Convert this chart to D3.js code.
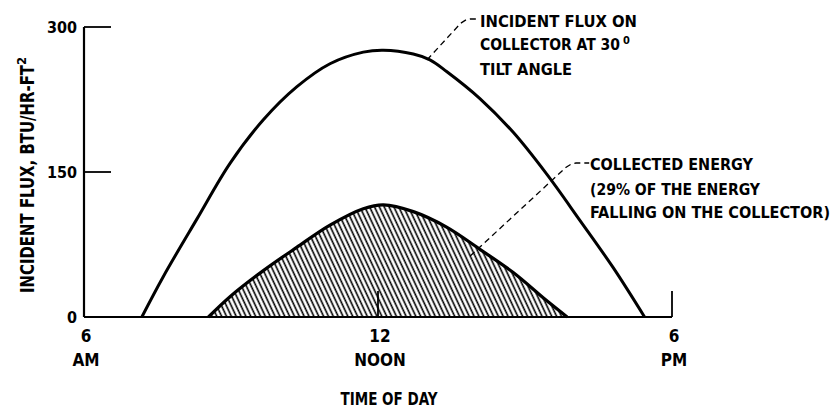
<!DOCTYPE html>
<html lang="en">

<head>
    <title>Incident Flux and Collected Energy</title>
    <meta charset="UTF-8">
    <script src="https://cdn.jsdelivr.net/npm/d3@7"></script>
    <style>
        body {
            margin: 0;
            background-color: #ffffff;
        }

        text {
            font-family: "Liberation Sans Narrow", "DejaVu Sans Condensed", sans-serif;
            font-weight: bold;
            fill: #000;
        }
    </style>
</head>

<body>
    <div id="chart"></div>

    <script>
        // hours of day (6 = 6 AM, 18 = 6 PM), flux in BTU/HR-FT2
        const incidentHours = [7.18, 7.62, 8.30, 8.98, 9.66, 10.34, 11.02, 11.70, 12.11, 12.72, 13.06, 13.40, 14.08, 14.76, 15.44, 16.12, 16.80, 17.44];
        const incidentFlux = [0, 42, 101, 159, 204, 238, 262, 274, 276, 272, 266, 254, 226, 191, 148, 100, 51, 0];

        const collectedHours = [8.54, 8.98, 9.66, 10.34, 11.02, 11.70, 12.11, 12.72, 13.40, 14.08, 14.76, 15.44, 15.86];
        const collectedFlux = [0, 21, 48, 72, 95, 112, 116, 109, 93, 70, 46, 17, 0];

        const yTicks = [0, 150, 300];
        const xTicks = [6, 12, 18];
        const xTickLabels = [["6", "AM"], ["12", "NOON"], ["6", "PM"]];

        const width = 839, height = 411;

        const svg = d3.select("#chart").append("svg")
            .attr("width", width)
            .attr("height", height);

        const x = d3.scaleLinear().domain([6, 18]).range([84, 672]);
        const y = d3.scaleLinear().domain([0, 300]).range([317, 27]);

        // hatch pattern for the collected energy
        svg.append("defs").append("pattern")
            .attr("id", "hatch")
            .attr("patternUnits", "userSpaceOnUse")
            .attr("width", 4.4)
            .attr("height", 10)
            .attr("patternTransform", "rotate(-25)")
            .append("line")
            .attr("x1", 1.2).attr("y1", -1)
            .attr("x2", 1.2).attr("y2", 11)
            .attr("stroke", "#000")
            .attr("stroke-width", 1.6);

        const incident = incidentHours.map((h, i) => ({ h, v: incidentFlux[i] }));
        const collected = collectedHours.map((h, i) => ({ h, v: collectedFlux[i] }));

        const line = d3.line().x(d => x(d.h)).y(d => y(d.v)).curve(d3.curveCatmullRom.alpha(0.5));
        const area = d3.area().x(d => x(d.h)).y0(y(0)).y1(d => y(d.v)).curve(d3.curveCatmullRom.alpha(0.5));

        svg.append("path")
            .datum(collected)
            .attr("d", area)
            .attr("fill", "url(#hatch)");

        // axes drawn by hand: a left spine with inward ticks and a bottom base line
        svg.append("line")
            .attr("x1", x(6)).attr("x2", x(6))
            .attr("y1", y(300)).attr("y2", y(0))
            .attr("stroke", "#000").attr("stroke-width", 2.2);

        svg.append("line")
            .attr("x1", x(6)).attr("x2", x(18))
            .attr("y1", y(0)).attr("y2", y(0))
            .attr("stroke", "#000").attr("stroke-width", 2.2);

        svg.selectAll(".ytick")
            .data(yTicks.filter(d => d > 0))
            .join("line")
            .attr("x1", x(6))
            .attr("x2", x(6) + 27)
            .attr("y1", d => y(d))
            .attr("y2", d => y(d))
            .attr("stroke", "#000").attr("stroke-width", 1.8);

        svg.selectAll(".xtick")
            .data(xTicks.filter(d => d > 6))
            .join("line")
            .attr("x1", d => x(d))
            .attr("x2", d => x(d))
            .attr("y1", y(0))
            .attr("y2", y(0) - 26)
            .attr("stroke", "#000").attr("stroke-width", 1.8);

        svg.selectAll(".ylabel")
            .data(yTicks)
            .join("text")
            .attr("x", x(6) - 7)
            .attr("y", d => y(d) + 6)
            .attr("text-anchor", "end")
            .style("font-size", "16px")
            .text(d => d);

        const xl = svg.selectAll(".xlabel")
            .data(xTicks)
            .join("g")
            .attr("transform", d => `translate(${x(d) + 2},0)`);

        xl.append("text")
            .attr("y", 342)
            .attr("text-anchor", "middle")
            .style("font-size", "17px")
            .text((d, i) => xTickLabels[i][0]);

        xl.append("text")
            .attr("y", 366)
            .attr("text-anchor", "middle")
            .style("font-size", "17px")
            .text((d, i) => xTickLabels[i][1]);

        // curves
        svg.append("path")
            .datum(incident)
            .attr("d", line)
            .attr("fill", "none")
            .attr("stroke", "#000")
            .attr("stroke-width", 3);

        svg.append("path")
            .datum(collected)
            .attr("d", line)
            .attr("fill", "none")
            .attr("stroke", "#000")
            .attr("stroke-width", 3.2);

        // axis titles
        svg.append("text")
            .attr("x", 389)
            .attr("y", 405)
            .attr("text-anchor", "middle")
            .style("font-size", "17px")
            .attr("textLength", 97)
            .attr("lengthAdjust", "spacingAndGlyphs")
            .text("TIME OF DAY");

        const yt = svg.append("text")
            .attr("transform", "translate(34,293) rotate(-90)")
            .style("font-size", "19px");
        yt.append("tspan")
            .attr("textLength", 228)
            .attr("lengthAdjust", "spacingAndGlyphs")
            .text("INCIDENT FLUX,  BTU/HR-FT");
        yt.append("tspan")
            .attr("dy", -8)
            .style("font-size", "13px")
            .text("2");

        // annotations with dashed leaders
        const leader = d3.line().x(d => x(d[0])).y(d => y(d[1]));

        svg.append("path")
            .attr("d", leader([[13.0, 266], [13.69, 304], [13.8, 307.5], [13.88, 308.3], [14.02, 308.3]]))
            .attr("fill", "none")
            .attr("stroke", "#000")
            .attr("stroke-width", 1.3)
            .attr("stroke-dasharray", "6,4");

        svg.append("path")
            .attr("d", leader([[13.88, 63], [15.84, 155], [15.94, 158], [16.04, 159.3], [16.31, 159.3]]))
            .attr("fill", "none")
            .attr("stroke", "#000")
            .attr("stroke-width", 1.3)
            .attr("stroke-dasharray", "6,4");

        const note1 = [
            { t: "INCIDENT FLUX ON", w: 157, y: 27 },
            { t: "COLLECTOR AT 30", w: 140, y: 50, sup: "0" },
            { t: "TILT ANGLE", w: 92, y: 75 }
        ];
        const note2 = [
            { t: "COLLECTED ENERGY", w: 163, y: 170 },
            { t: "(29% OF THE ENERGY", w: 170, y: 195 },
            { t: "FALLING ON THE COLLECTOR)", w: 240, y: 218 }
        ];

        [[note1, 480], [note2, 590]].forEach(([lines, left]) => {
            const t = svg.selectAll(null)
                .data(lines)
                .join("text")
                .attr("x", left)
                .attr("y", d => d.y)
                .style("font-size", "16px");
            t.append("tspan")
                .attr("textLength", d => d.w)
                .attr("lengthAdjust", "spacingAndGlyphs")
                .text(d => d.t);
            t.filter(d => d.sup)
                .append("tspan")
                .attr("dx", 3)
                .attr("dy", -6)
                .style("font-size", "11px")
                .text(d => d.sup);
        });
    </script>
</body>

</html>
